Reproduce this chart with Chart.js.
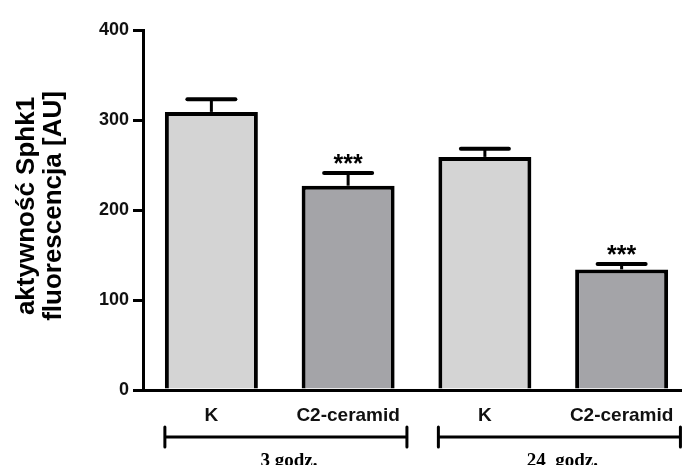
<!DOCTYPE html>
<html>
<head>
<meta charset="utf-8">
<script src="https://cdn.jsdelivr.net/npm/chart.js@4.4.1/dist/chart.umd.min.js"></script>
<style>
  html, body { margin: 0; padding: 0; background: #fff; }
  .wrap { width: 682px; height: 465px; overflow: hidden; position: relative; }
  .wrap canvas { position: absolute; left: 0; top: 0; }
</style>
</head>
<body>
<div class="wrap"><canvas id="chart" width="690" height="465"></canvas></div>
<script>
const categories = ["K", "C2-ceramid", "K", "C2-ceramid"];
const meanValues = [309, 227, 259, 134];
const semValues = [14, 14, 9, 6];
const significance = ["", "***", "", "***"];
const groupLabels = ["3 godz.", "24  godz."];
const yTickValues = [0, 100, 200, 300, 400];
const yTitleLines = ["aktywność Sphk1", "fluorescencja [AU]"];

const barColors = ["#d4d4d4", "#a4a4a8", "#d4d4d4", "#a4a4a8"];

const extras = {
  id: "extras",
  afterDatasetsDraw(chart) {
    const ctx = chart.ctx;
    const x = chart.scales.x;
    const y = chart.scales.y;
    const meta = chart.getDatasetMeta(0);
    ctx.save();
    ctx.strokeStyle = "#000";
    ctx.fillStyle = "#000";

    // error bars (upper only) + stars
    meta.data.forEach((bar, i) => {
      const top = y.getPixelForValue(meanValues[i]);
      const cap = y.getPixelForValue(meanValues[i] + semValues[i]);
      ctx.lineWidth = 3;
      ctx.lineCap = "butt";
      ctx.beginPath();
      ctx.moveTo(bar.x, top);
      ctx.lineTo(bar.x, cap);
      ctx.stroke();
      ctx.lineWidth = 4;
      ctx.lineCap = "round";
      ctx.beginPath();
      ctx.moveTo(bar.x - 24, cap);
      ctx.lineTo(bar.x + 24, cap);
      ctx.stroke();
      if (significance[i]) {
        ctx.font = "bold 25px 'Liberation Sans', Arial";
        ctx.textAlign = "center";
        ctx.textBaseline = "middle";
        ctx.fillText(significance[i], bar.x, cap - 8);
      }
    });

    // group brackets
    const w = x.getPixelForValue(1) - x.getPixelForValue(0);
    ctx.lineWidth = 3;
    ctx.lineCap = "round";
    groupLabels.forEach((g, k) => {
      const x0 = x.getPixelForValue(2 * k) - 0.34 * w;
      const x1 = x.getPixelForValue(2 * k + 1) + 0.43 * w;
      const yb = 437;
      ctx.beginPath();
      ctx.moveTo(x0, yb);
      ctx.lineTo(x1, yb);
      ctx.moveTo(x0, yb - 10);
      ctx.lineTo(x0, yb + 10);
      ctx.moveTo(x1, yb - 10);
      ctx.lineTo(x1, yb + 10);
      ctx.stroke();
      ctx.font = "bold 19px 'Liberation Serif', 'Times New Roman', serif";
      ctx.textAlign = "center";
      ctx.textBaseline = "top";
      ctx.fillText(g, (x0 + x1) / 2 + 3, 452);
    });

    // y axis title
    ctx.font = "bold 26px 'Liberation Sans', Arial";
    ctx.textAlign = "center";
    ctx.textBaseline = "middle";
    yTitleLines.forEach((t, k) => {
      ctx.save();
      ctx.translate(27 + k * 27, 206);
      ctx.rotate(-Math.PI / 2);
      ctx.fillText(t, 0, 0);
      ctx.restore();
    });
    ctx.restore();
  }
};

new Chart(document.getElementById("chart"), {
  type: "bar",
  data: {
    labels: categories,
    datasets: [{
      data: meanValues,
      backgroundColor: barColors,
      borderColor: "#000",
      borderWidth: 4,
      borderSkipped: "bottom",
      barPercentage: 0.68,
      categoryPercentage: 1
    }]
  },
  options: {
    responsive: false,
    animation: false,
    layout: { padding: { top: 30, right: 0, left: 0, bottom: 0 } },
    plugins: { legend: { display: false }, tooltip: { enabled: false } },
    scales: {
      x: {
        grid: { display: false },
        border: { display: true, color: "#000", width: 3 },
        ticks: {
          color: "#111",
          font: { family: "'Liberation Sans', Arial", weight: "bold", size: 19 },
          padding: 6,
          maxRotation: 0
        },
        afterFit(scale) { scale.height = 75; }
      },
      y: {
        min: 0,
        max: 400,
        afterBuildTicks(scale) { scale.ticks = yTickValues.map(v => ({ value: v })); },
        grid: { drawOnChartArea: false, drawTicks: true, tickLength: 10, color: "#000", lineWidth: 3 },
        border: { display: true, color: "#000", width: 3 },
        ticks: {
          color: "#111",
          font: { family: "'Liberation Sans', Arial", weight: "bold", size: 18 },
          padding: 4
        },
        afterFit(scale) { scale.width = 143; }
      }
    }
  },
  plugins: [extras]
});
</script>
</body>
</html>
